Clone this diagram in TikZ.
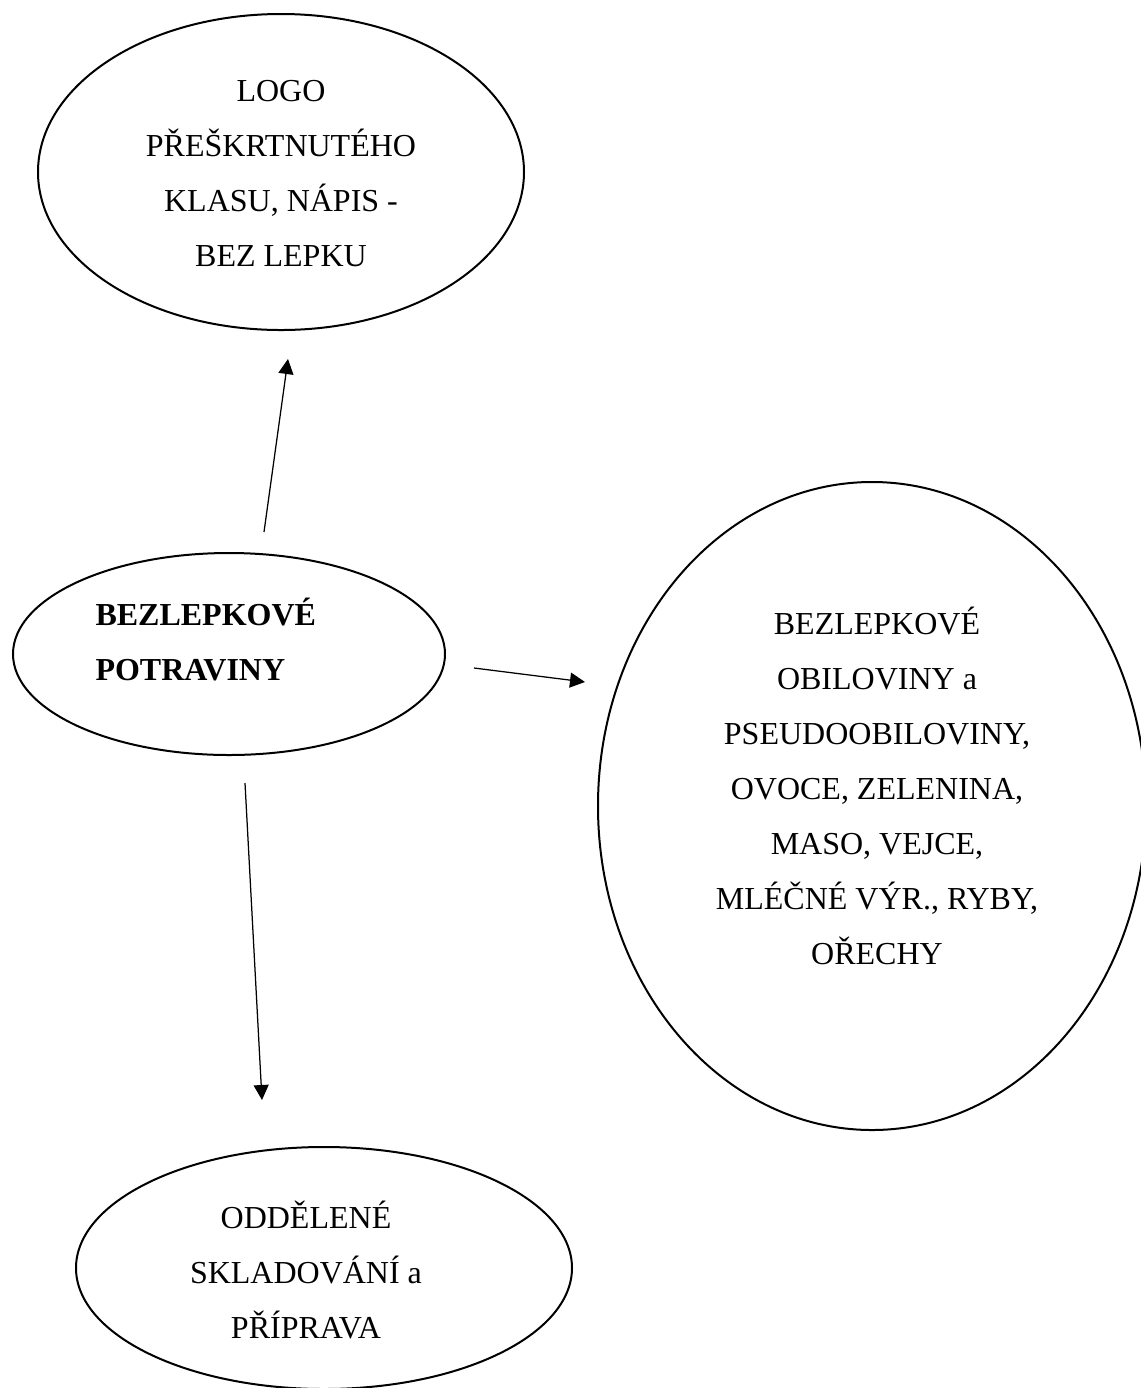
\documentclass[tikz,border=0pt]{standalone}
\usepackage{fontspec}
\setmainfont{Liberation Serif}
\usetikzlibrary{arrows.meta,positioning,shapes.geometric}
\tikzset{
  bubble/.style={draw, ellipse, line width=0.8pt, inner sep=0pt},
  bubbletext/.style={align=center, inner sep=0pt,
                     font=\fontsize{12.8}{22}\selectfont},
  flowarrow/.style={-{Triangle[length=6pt,width=6pt]}, line width=0.5pt}
}

\begin{document}
\begin{tikzpicture}[x=0.4pt, y=-0.4pt]
  \useasboundingbox (0,0) rectangle (1141,1388);
  % ellipses
  \node[bubble, minimum width=194.4pt, minimum height=126.4pt] (logo) at (281,172) {};
  \node[bubble, minimum width=172.8pt, minimum height=80.8pt] (foods) at (229,654) {};
  \node[bubble, minimum width=219.2pt, minimum height=259.2pt] (grains) at (872,806) {};
  \node[bubble, minimum width=198.4pt, minimum height=96.8pt] (storage) at (324,1268) {};
  % texts
  \node[bubbletext] (logotext) at (281,174) {
    LOGO\\
    PŘEŠKRTNUTÉHO\\
    KLASU, NÁPIS -\\
    BEZ LEPKU
  };
  \node[bubbletext, align=left, anchor=west] (foodstext) at (95,640) {
    \textbf{BEZLEPKOVÉ}\\
    \textbf{POTRAVINY}
  };
  \node[bubbletext] (grainstext) at (877,786) {
    BEZLEPKOVÉ\\
    OBILOVINY a\\
    PSEUDOOBILOVINY,\\
    OVOCE, ZELENINA,\\
    MASO, VEJCE,\\
    MLÉČNÉ VÝR., RYBY,\\
    OŘECHY
  };
  \node[bubbletext] (storagetext) at (306,1270) {
    ODDĚLENÉ\\
    SKLADOVÁNÍ a\\
    PŘÍPRAVA
  };
  % arrow ends
  \coordinate (upfrom) at (264,532);
  \coordinate (upto) at (288,359);
  \coordinate (rightfrom) at (474,668);
  \coordinate (rightto) at (585,682);
  \coordinate (downfrom) at (245,783);
  \coordinate (downto) at (262,1100);
  \draw[flowarrow] (upfrom) -- (upto);
  \draw[flowarrow] (rightfrom) -- (rightto);
  \draw[flowarrow] (downfrom) -- (downto);
\end{tikzpicture}
\end{document}
